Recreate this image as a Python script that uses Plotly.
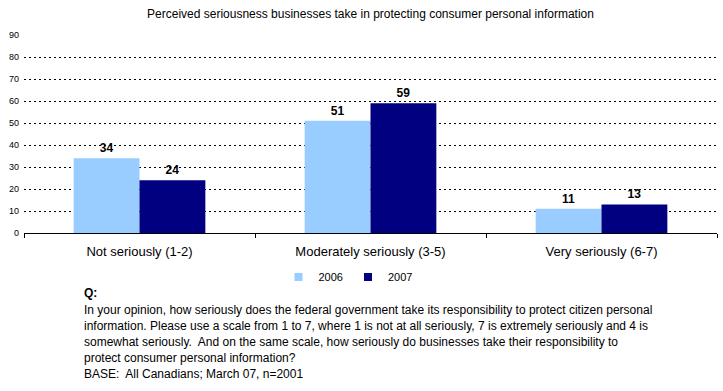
import plotly.graph_objects as go

categories = ["Not seriously (1-2)", "Moderately seriously (3-5)", "Very seriously (6-7)"]
vals_2006 = [34, 51, 11]
vals_2007 = [24, 59, 13]
series_names = ["2006", "2007"]
colors = ["#99CCFF", "#000080"]
y_ticks = [0, 10, 20, 30, 40, 50, 60, 70, 80, 90]

FONT = "Liberation Sans, Arial, sans-serif"

W, H = 723, 391
L, R, T, B = 24, 6, 35, 158
PW, PH = W - L - R, H - T - B


def px_x(x):
    return (x - L) / PW


def px_y(y):
    return (H - B - y) / PH


fig = go.Figure()
for name, vals, col in zip(series_names, [vals_2006, vals_2007], colors):
    fig.add_trace(go.Bar(
        x=categories, y=vals, name=name, marker=dict(color=col, line=dict(width=0)),
        text=[str(v) for v in vals], textposition="outside",
        textfont=dict(family=FONT, size=12, color="black"),
        texttemplate="<b>%{text}</b>", cliponaxis=False, showlegend=False,
    ))
    # compact square legend entry
    fig.add_trace(go.Scatter(
        x=[None], y=[None], mode="markers", name=name,
        marker=dict(symbol="square", size=8, color=col), showlegend=True,
    ))

fig.update_layout(
    width=W, height=H,
    margin=dict(l=L, r=R, t=T, b=B),
    paper_bgcolor="white", plot_bgcolor="white",
    barmode="group", bargap=0.43, bargroupgap=0,
    font=dict(family=FONT, size=11, color="black"),
    title=dict(text="Perceived seriousness businesses take in protecting consumer personal information",
               x=0.5, xref="paper", xanchor="center", y=1 - 14 / H, yanchor="middle",
               font=dict(family=FONT, size=12, color="black")),
    showlegend=True,
    legend=dict(orientation="h", x=px_x(348), xanchor="center", y=px_y(277), yanchor="middle",
                font=dict(family=FONT, size=11, color="black"), itemwidth=30,
                tracegroupgap=0),
    yaxis=dict(range=[0, 90], tickvals=y_ticks, showgrid=True, gridcolor="black",
               griddash="2px,3px", gridwidth=1, zeroline=False, showline=False,
               tickfont=dict(family=FONT, size=9), ticks="", automargin=False,
               ticklabelstandoff=4),
    xaxis=dict(showline=True, linecolor="black", linewidth=1, ticks="outside",
               tickson="boundaries", ticklen=4, tickcolor="black",
               tickfont=dict(family=FONT, size=13), automargin=False,
               ticklabelstandoff=6),
)

q_lines = [
    "In your opinion, how seriously does the federal government take its responsibility to protect citizen personal",
    "information. Please use a scale from 1 to 7, where 1 is not at all seriously, 7 is extremely seriously and 4 is",
    "somewhat seriously.  And on the same scale, how seriously do businesses take their responsibility to",
    "protect consumer personal information?",
    "BASE:  All Canadians; March 07, n=2001",
]
fig.add_annotation(text="<b>Q:</b>", xref="paper", yref="paper", x=px_x(82), y=px_y(293),
                   xanchor="left", yanchor="middle", showarrow=False,
                   font=dict(family=FONT, size=12, color="black"))
for i, line in enumerate(q_lines):
    fig.add_annotation(text=line, xref="paper", yref="paper",
                       x=px_x(82), y=px_y(310 + 16 * i), xanchor="left", yanchor="middle",
                       align="left", showarrow=False,
                       font=dict(family=FONT, size=12, color="black"))

fig.write_html("out.html", config={"displayModeBar": False},
               post_script="document.body.style.margin='0';document.body.style.padding='0';")
